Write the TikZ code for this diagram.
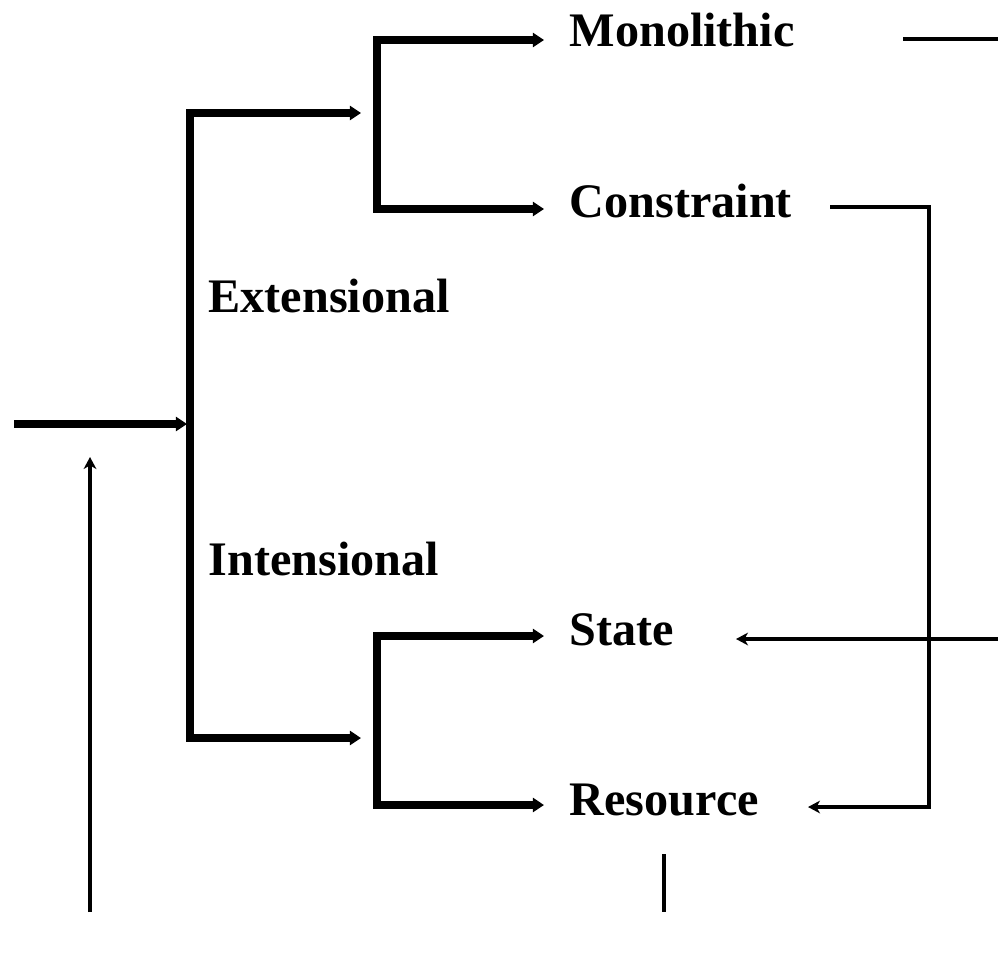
\documentclass[tikz,border=0pt]{standalone}
\usepackage{fontspec}
\setmainfont{Liberation Serif}
\usetikzlibrary{arrows.meta}
\begin{document}
\begin{tikzpicture}[x=0.01cm,y=-0.01cm,
  lbl/.style={anchor=base west,inner sep=0pt,font=\bfseries\fontsize{13.7pt}{16pt}\selectfont},
  thickline/.style={line width=2.1pt,line join=miter},
  thickarrow/.style={thickline,-{Triangle[length=3.2pt,width=4pt]}},
  thickbracket/.style={thickline,{Triangle[length=3.2pt,width=4pt]}-{Triangle[length=3.2pt,width=4pt]}},
  thinline/.style={line width=1pt,line join=miter},
  thinarrow/.style={thinline,-{Stealth[length=3.4pt,width=3.6pt,inset=1pt]}}]
\useasboundingbox (0,0) rectangle (998,973);
% labels
\node[lbl] (mono) at (569,47) {Monolithic};
\node[lbl] (cons) at (569,217) {Constraint};
\node[lbl] (ext) at (208,312) {Extensional};
\node[lbl] (int) at (208,575) {Intensional};
\node[lbl] (state) at (569,645) {State};
\node[lbl] (res) at (569,815) {Resource};
% coordinates
\coordinate (rootS) at (14,424);
\coordinate (rootE) at (187,424);
\coordinate (mTopTip) at (361,113);
\coordinate (mTop) at (190,113);
\coordinate (mBot) at (190,738);
\coordinate (mBotTip) at (361,738);
\coordinate (uTopTip) at (544,40);
\coordinate (uTop) at (377,40);
\coordinate (uBot) at (377,209);
\coordinate (uBotTip) at (544,209);
\coordinate (lTopTip) at (544,636);
\coordinate (lTop) at (377,636);
\coordinate (lBot) at (377,805);
\coordinate (lBotTip) at (544,805);
\coordinate (monoS) at (903,39);
\coordinate (monoE) at (998,39);
\coordinate (consS) at (830,207);
\coordinate (consC) at (929,207);
\coordinate (resC) at (929,807);
\coordinate (resTip) at (808,807);
\coordinate (stateS) at (998,639);
\coordinate (stateTip) at (736,639);
\coordinate (upS) at (90,912);
\coordinate (upTip) at (90,457);
\coordinate (resLs) at (664,854);
\coordinate (resLe) at (664,912);
% thick structure
\draw[thickarrow] (rootS) -- (rootE);
\draw[thickbracket] (mTopTip) -- (mTop) -- (mBot) -- (mBotTip);
\draw[thickbracket] (uTopTip) -- (uTop) -- (uBot) -- (uBotTip);
\draw[thickbracket] (lTopTip) -- (lTop) -- (lBot) -- (lBotTip);
% thin lines
\draw[thinline] (monoS) -- (monoE);
\draw[thinarrow] (consS) -- (consC) -- (resC) -- (resTip);
\draw[thinarrow] (stateS) -- (stateTip);
\draw[thinarrow] (upS) -- (upTip);
\draw[thinline] (resLs) -- (resLe);
\end{tikzpicture}
\end{document}
